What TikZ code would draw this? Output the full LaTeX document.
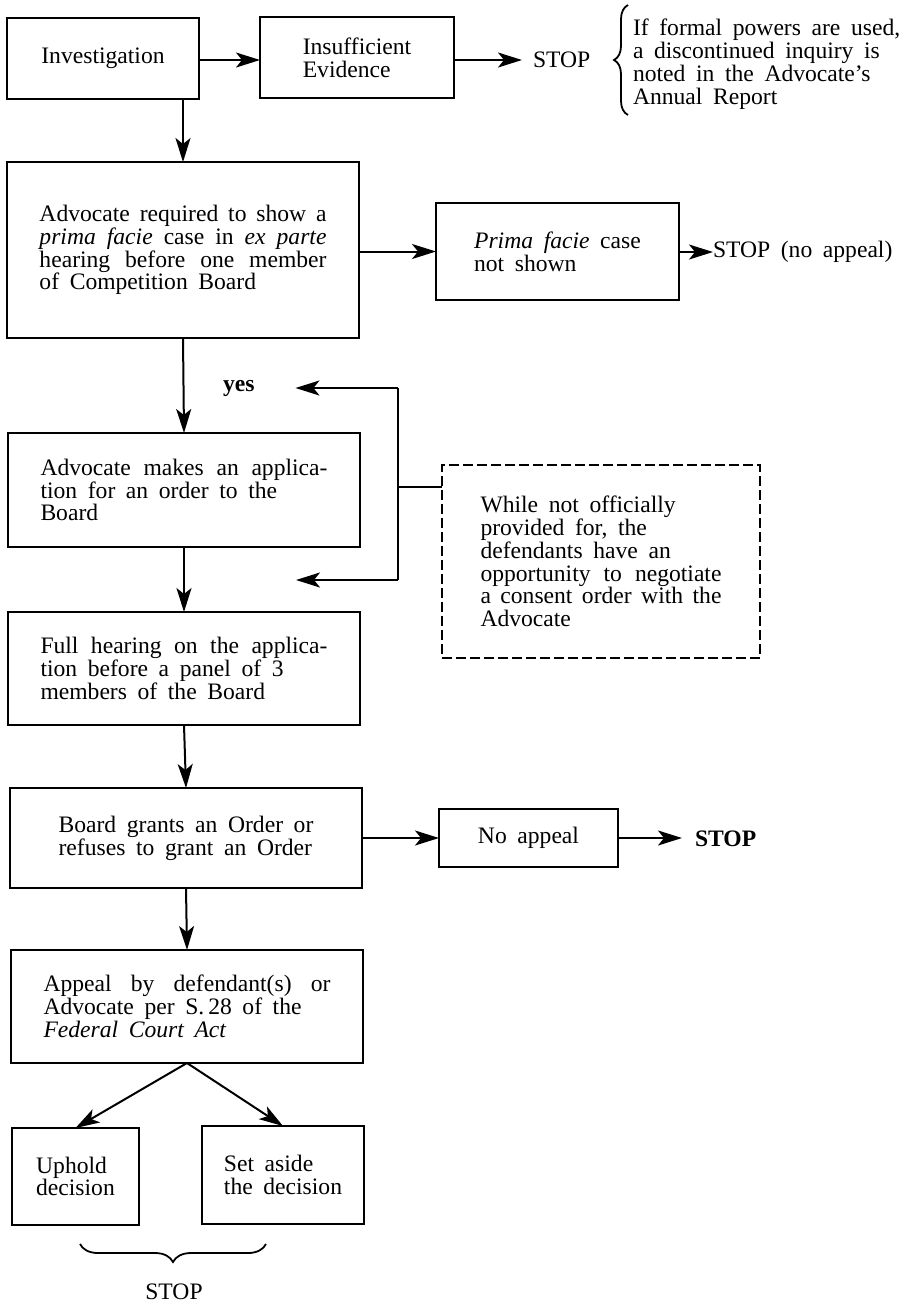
\documentclass[tikz,border=0pt]{standalone}
\usepackage{fontspec}
\setmainfont{Liberation Serif}[WordSpace=1.8]
\usetikzlibrary{arrows.meta,decorations.pathreplacing}
\newcommand\diagfont{\fontsize{11.8pt}{11.4pt}\selectfont}
\newcommand\jl[1]{\makebox[143.5pt][s]{#1}}
\newcommand\jd[1]{\makebox[120.5pt][s]{#1}}
\begin{document}
\begin{tikzpicture}[x=0.5pt,y=-0.5pt,
  box/.style={draw, line width=1.2pt, inner sep=0pt, outer sep=0pt, align=left, font=\diagfont},
  txt/.style={inner sep=0pt, outer sep=0pt, align=left, font=\diagfont},
  arr/.style={line width=1pt, -{Stealth[length=12pt,width=7.5pt,inset=3pt]}},
  conn/.style={line width=1pt},
  bracedeco/.style={line width=0.9pt, decorate, decoration={brace, amplitude=#1}}
]
\useasboundingbox (0,0) rectangle (906,1303);

% nodes
\node[box, minimum width=96pt, minimum height=40.5pt] (inv) at (103,58.5) {Investigation};
\node[box, minimum width=97pt, minimum height=40.5pt] (insuf) at (357,57.5) {Insufficient\\Evidence};
\node[txt, anchor=west] (stop1) at (533,60) {STOP};
\node[txt, anchor=west] (note) at (633,64) {If formal powers are used,\\a discontinued inquiry is\\noted in the Advocate's\\Annual Report};

\node[box, minimum width=176pt, minimum height=88pt] (adv) at (183,250)
  {\jl{Advocate required to show a}\\\jl{\textit{prima facie} case in \textit{ex parte}}\\\jl{hearing before one member}\\of Competition Board};
\node[box, minimum width=121.5pt, minimum height=48.5pt] (pf) at (557.5,251.5) {\textit{Prima facie} case\\not shown};
\node[txt, anchor=west] (stop2) at (713,252) {STOP (no appeal)};

\node[txt, anchor=west, font=\diagfont\bfseries] (yes) at (223,388) {yes};

\node[box, minimum width=176pt, minimum height=57pt] (app) at (184,490)
  {\jl{Advocate makes an applica-}\\tion for an order to the\\Board};
\node[box, dashed, dash pattern=on 5pt off 2pt, line width=1pt, minimum width=159pt, minimum height=96.5pt] (neg) at (601,561.5)
  {While not officially\\provided for, the\\defendants have an\\\jd{opportunity to negotiate}\\\jd{a consent order with the}\\Advocate};

\node[box, minimum width=176pt, minimum height=56.5pt] (full) at (184,668.5)
  {\jl{Full hearing on the applica-}\\tion before a panel of 3\\members of the Board};

\node[box, minimum width=176pt, minimum height=50pt] (board) at (186,838)
  {Board grants an Order or\\refuses to grant an Order};
\node[box, minimum width=89.5pt, minimum height=29pt] (noapp) at (528.5,838) {No appeal};
\node[txt, anchor=west, font=\diagfont\bfseries] (stop3) at (695,839) {STOP};

\node[box, minimum width=176pt, minimum height=56.5pt] (appeal) at (187,1006.5)
  {\jl{Appeal by defendant(s) or}\\Advocate per S.\,28 of the\\\textit{Federal Court Act}};

\node[box, minimum width=63.5pt, minimum height=48.5pt] (uph) at (75.5,1176.5) {Uphold\\decision};
\node[box, minimum width=81pt, minimum height=49pt] (set) at (283,1175) {Set aside\\the decision};
\node[txt] (stop4) at (174,1292) {STOP};

% connectors
\draw[arr] (inv.east |- 0,60) -- (insuf.west |- 0,60);
\draw[arr, shorten >=5.5pt] (insuf.east |- stop1.west) -- (stop1.west);
\draw[bracedeco=7pt] (628,115) -- (628,5);

\draw[arr] (inv.south -| adv.north) -- (adv.north);
\draw[arr] (adv.east |- pf.west) -- (pf.west);
\draw[arr] (pf.east |- stop2.west) -- (stop2.west);

\draw[arr] (adv.south) -- (app.north);
\coordinate (lt) at (398,388);
\coordinate (lb) at (398,580);
\coordinate (e2) at (296,580);
\coordinate (j) at (398,487);
\draw[arr, shorten >=20.5pt] (lt) -- (yes.east);
\draw[conn] (lt) -- (lb);
\draw[arr] (lb) -- (e2);
\draw[conn] (j) -- (j -| neg.west);

\draw[arr] (app.south) -- (full.north);
\draw[arr] (full.south) -- (board.north);
\draw[arr] (board.east) -- (noapp.west);
\draw[arr, shorten >=6.5pt] (noapp.east) -- (noapp.east -| stop3.west);
\draw[arr] (board.south) -- (appeal.north);

\draw[arr] (appeal.south) -- (uph.north);
\draw[arr] (appeal.south) -- (set.north);
\draw[bracedeco=9pt] (266,1244) -- (80,1244);
\end{tikzpicture}
\end{document}
